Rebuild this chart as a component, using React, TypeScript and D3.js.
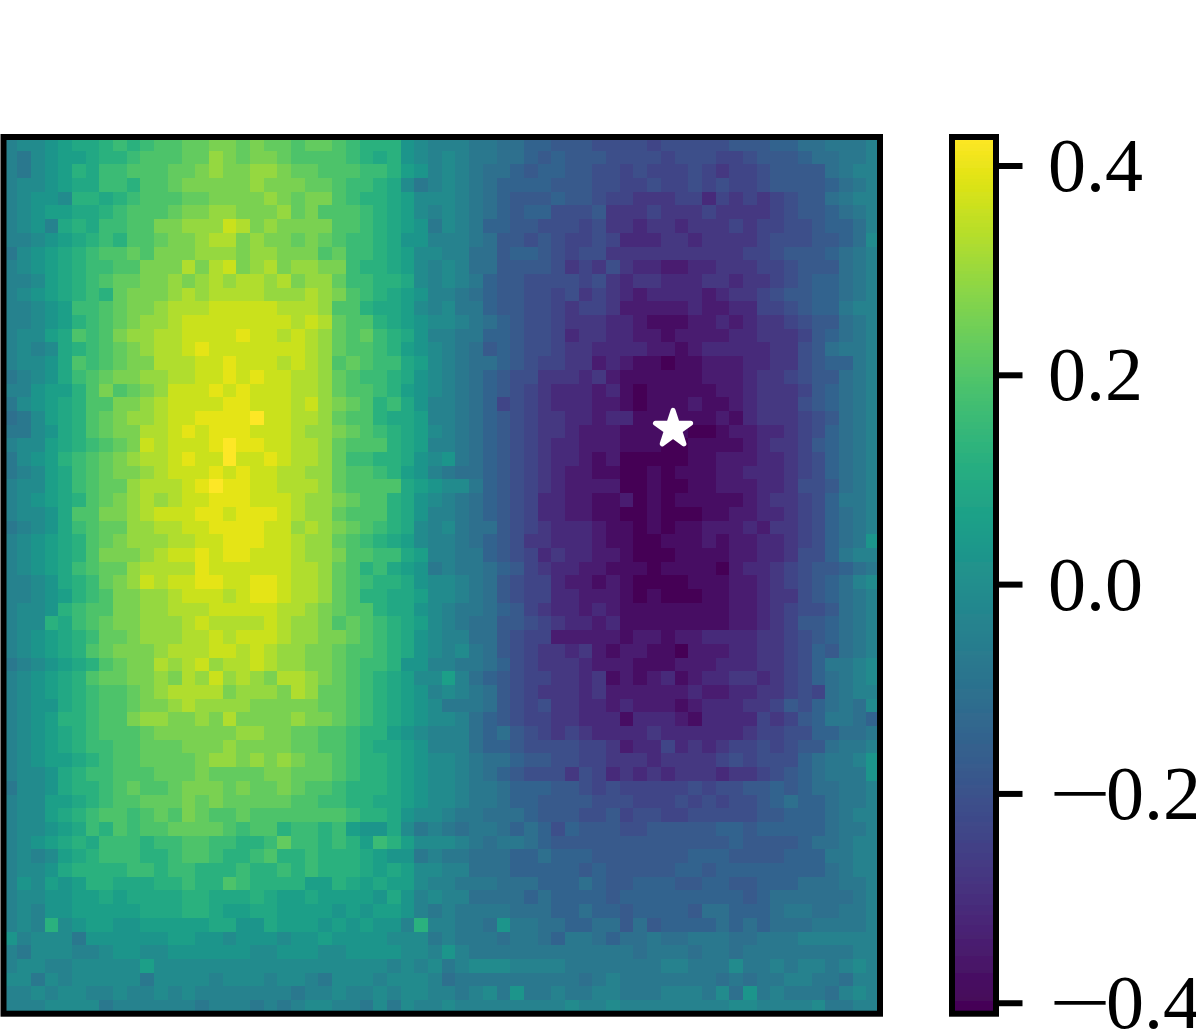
import React from "react";
import * as d3 from "d3";

// Cell levels (a = lowest, z = highest).
const heatRows: string[] = [
"lmmnoppq rqrssttu ututtstt srqqqnml llkkjjii hhhggggf ggggghhh iijjkkkl",
"lkmnoopq qrsssttv utuutsss srqpqnml mlkkjjih ihhhgggg fgggffgh hhijjkkl",
"lkmnoqpr rsssttuv uuvvutts ssrrqonl mlkjjihi ihhggfgf ffgfeffg hhhhjkll",
"lmmnoppr rqsstuuu uuvuuutt srrqpmkl mlkjiiii hhhggffg ffgfgffg hhhhijkl",
"lmnnmqqp qrsssttu uuuvutuu srqqpomm mlkjihhh ihhgffee effdfefe fghhjkll",
"lmnooppq rssstuuv vuuuvtus ssrqpoml mlkjihii gggheeef eeefeeee fghhijkl",
"lmnlpqpr rssuuvvv xwuvuuuu ssrqponk mlkiihhg ggfgeede edeeefef fgghiijl",
"llmnopqr qsstuuvw wuvuutut srrqpnnl llkjhhgh gffgfddd eedeeeef ggghhijm",
"kmnopqrs stsuuuvv vuvvuuus trrqpomm lljjhiih gfggeeee eeeeeeff ghhhijkl",
"lmnopqrr ssuuuwuw xuvwuvvu urqqpoml mljjhhhh gefegedd ccddeeef fghhhjkl",
"llmopqrs ttuuvuvw vwwvwuvv trrqqpml mlkihhgg ggfgedee dddeedee fghiijkl",
"lmnopqrq tuuuvwvw wwwvvvwv usrqponl lkjihhgg fgefedcd dddcdeef ghhiijkl",
"llmnorrs tuuvwwwx xxxxwwwv ssqppoml mkkihhgg feffeccc ccdccddf fghiikll",
"llmnoqrs tuvvwxxx xxxxxwxw tssqponm mlkjihgg feeeddcb bbccdcde efghhjkl",
"lmmopsrs uvvwwxxx xyxxwxwv tstrqpnl lkkiihgg fdeeddcc bccccdde eefhijkl",
"lmlmpqrs tuvwwxyx xxxxxxwv tssrqonm lkjhihgg feeddddc cbcddddd eeghjkkl",
"lmmnpsrs tuuwwwxx yxxxwxwv stsrrpom lkjjihgf feecdcbb abbcccdd eeghiikl",
"klmnprst uuvvwwxx yxyxxwwv tsrrqpnm lkjihgge eedecbbb bbbcccde efghhjkl",
"llnooqsu stuvxxxy xyxxxwwv tssrqonm lkjihgfe dddcdbab bbbbccde eefhijkl",
"kmnopqss uuvwxxxx yyxxxwxv utsqrpnl lkjifgfe dddccbab bbcbbcde eeghijkl",
"jkmopqst uvvwxxyy yyzxxwwv tssqppol lkjihgfe eddcddbb bbbbcbde eefghjkl",
"kkmnpqst uuwwxyxy yyxxxwvv utsrqpom lkjihgfe edcccbbb bbaabccd defgijkl",
"lmmopqrs tuxwxxxy zyyxxwwv tsssqpol lkjihgfe ddcccbbb aabbbbcd eefhijkl",
"kmnoqrst uvwwxyxx zxxyxwwv trrqqpnm nkjihgfe ddcbcaaa aabbcccd defgijkl",
"klmoprst uuvwxxxy xyxxwwvv tssrqonl kjjihgfe dccbbaab abbbccdd defgijkl",
"lmmoprst tvwwwxyz yyxxwwwv tsssspon mmkihgfe dccccaab aabbcccd degghjkl",
"lmnopqst uvwvwxxy yyxxxwvv utssqpnm lkjihgfd dccbbcab abbbbbcd eefgikkl",
"lmmnpssu uvwxxxyy xyyyxwvv tsssqpnl lkjihgfd dccbbaab aaabbccd defgijkl",
"klmnprst tvvwwxxy yyyxxvwv utsrqpml mkjjhgfe dddcbbab abbcccdc eefgijkl",
"lmnopqst uvvvwwxx yyyxxwvv tsrqpoml lkjihgee dddcbbaa bbbcbccd defgijkn",
"lmnopqsu uuvwxxyx yyxxxwvv ussrrpol lkkihgfd eddccbaa abbbbccd deggikll",
"lmnoprst tvwwwwyx xxxxxwwv tsqrponk lkkjihfe ddccbbba bbbbacdd efghhijk",
"llmnpqrt uvxwxxyy xxyyxwwv tsrqqpnm mlkjhgff dccbcbaa aabbbccd efghijlm",
"llmnoqrs uuvvwxxx wxyyxwwv tsqqppom mlkjhgff ddcccbab aaabbccd eeghijkl",
"lmmnqrss uuvvwwwx xxxxwwvu tssqppnm lkkjihfe ddcdcbbb bbbbbccd efgghjkl",
"lmmqprst uuvvvwxw wwwxwvvu stsrqpom lkjjhhgf eddcdbbb bbbbbccd efhhijkl",
"lmnopqrt tuvvvwwx wxxxwvvu utsrqpnm lljjhgff cccccbcc bccdddde efghijkl",
"lmnopqst uuuvwwwx xwxwvvuu tssrqpnm lmkjhgfe edecbccb bacccdde efgihjkl",
"klmnopqs tuuwvwxv wwxwvvuu tsrrqnnl lkkjigfe eedcccbb bcccddde efgikklm",
"lmnopqst tuuvuwvx vwvuwwvu tsrqpomm oljihgff eedebcbc dbcddeed efgijklm",
"lmnopqrs stuvwwww uvvvuwvt tsrqponl mlkjhgfe eedecccc ccdccdde efgfjkll",
"lmnnpqrs stuuvwvv vvuuuuut tsrqponm kkkjhgfg eeddcdcc cbcdddee fhgijkjm",
"lmnoqqrs suvvuuvu wuuuuvuu tsrqponm mljihgff eedddbdd dcbddddf efhikkji",
"lmnopqrs sstuuuuu uvvuutts srqqonml lljijhgf efedddde ddddddef fggiijjk",
"lmnopqrr sstttuuu vuuuutts srqpponl lljiihgg ggffecdd fdedeffg fghhjkkl",
"lmnoopqr ssttttuv vuvuvutt srqqponm mlkjjihh ggffeeed eeeefgfg ggijkkln",
"lmmnpqrr ssstttut tttuuttt srqqponm mlkjihgg gegfdede deeedeef ghijkkkn",
"kmmnpqqr stsstuuu tuttutss rqqqponm mlkkjiii hhgfgfff ffgfgghh ihijjkkl",
"lmmoopqr sstttutu tttttssr rqqpponm mlkkjiih hhhgggff fgfgfggh ijiijkkl",
"lmmopqrs srstsuts stssssss srqqpnmm lkkjjjih hhgghfgg ffgggggh hiiijkll",
"lmmnoprq srsstttt srssqrrq ronnpmkl kjkkjiji gihhhggh hhhhiihi iiiijkkl",
"lmnopqpr rrqrrssr rqqrtrrq rqorqomm mlkjkkji hhhhhhhh hhhhhihh hhijjkll",
"lmlmopqr rrqqrssr qqrsqqrq qqponnkl kkjjjiij iiihhhhh hhiiihhh hiiikkll",
"lmmnpqqq qrrqrrqq qrqqrqrq qqpopomm lljjjiii iihihhhh hiihiiii iiiijkll",
"lnmonoqq pppqqrqq srqqqqoo qpopooml lkkkjjji iijihhii ihhiihhi iijjjkkl",
"lmmnnoop oppppqqp ppqpoopo ooonpnlm lljjjjij iiiihiii iiiiiihi jjjjjjkl",
"lmlnnooo oopppqqp ooppoooo nonoonlk lkkkkjjj iijiihii iihjjiii jkkjjkkl",
"lmlqmnoo nnooooop pnnpooon ononnlql lkkjnkkj jiijjhjh iiiijiji jjjkkkkl",
"nlmmmknn nnnnoonn mnnnmnno nnnnmmmk lkkkjkkj ikkjijjk jjkkkjjk kkllllll",
"lkmmmllm nnmmnnnn nnmmnnnm mnnnnmml nlkkkkkk kkkkkkjk kkjkkjkk kkkkkkll",
"lmmllmmm mmommmmm mmmmmmmm mmmmlmlm klmmmlll lkkkkkkk llkkkmkk lkllklml",
"mmkmlmmm mmkmmmml mmmlmmlk mmmlmmml jkkkkkkk kkjklkkk kkkkjkjk kllkkjll",
"llmlmmll mllmlmll lllllkll mllmlmml lklmknkk lkkllkkk lllkmjnk lkkkjlml",
"lllmmmmk llllllkl llklklmm llkmkmll mlllllll lmllmlll lllllmml lllmkkll",
];
const levels = "abcdefghijklmnopqrstuvwxyz";
const lowestValue = -0.41;
const highestValue = 0.4277;
const barTicks = [0.4, 0.2, 0, -0.2, -0.4];
const barSteps = d3.range(0, 512);
const starCell = [48.89, 21.31];

const W = 1196, H = 1034;
const x0 = 3.5, x1 = 880, y0 = 137, y1 = 1013.7;
const bx0 = 952, bx1 = 996;

const cells = heatRows.map((r) => r.replace(/ /g, "").split("").map((c) =>
  lowestValue + (levels.indexOf(c) / 25) * (highestValue - lowestValue)));

export default function App() {
  const nCols = d3.max(cells, (r) => r.length) as number;
  const x = d3.scaleLinear().domain([0, nCols]).range([x0, x1]);
  const y = d3.scaleLinear().domain([0, cells.length]).range([y0, y1]);
  const color = d3.scaleSequential(d3.interpolateViridis).domain([lowestValue, highestValue]);
  const barY = d3.scaleLinear().domain([highestValue, lowestValue]).range([y0, y1]);
  const star = d3.symbol().type(d3.symbolStar).size(384)() as string;
  const stepValue = (i: number) => lowestValue + (i / barSteps.length) * (highestValue - lowestValue);
  return (
    <svg width={W} height={H} viewBox={`0 0 ${W} ${H}`} style={{ position: "absolute", left: 0, top: 0, display: "block", background: "#fff" }}>
      <defs>
        <filter id="soft" x="0" y="0" width={W} height={H} filterUnits="userSpaceOnUse" primitiveUnits="userSpaceOnUse">
          <feGaussianBlur stdDeviation="0.7" />
        </filter>
      </defs>
      <g filter="url(#soft)">
        <rect x={0} y={0} width={W} height={H} fill="#fff" />
        <g shapeRendering="crispEdges">
          {cells.map((row, r) => row.map((v, c) => (
            <rect key={`${r}-${c}`} x={x(c)} y={y(r)} width={x(c + 1) - x(c) + 0.5} height={y(r + 1) - y(r) + 0.5} fill={color(v)} />
          )))}
        </g>
        <path d={star} transform={`translate(${x(starCell[0])},${y(starCell[1])})`} fill="#fff" stroke="#fff" strokeWidth={5} strokeLinejoin="round" />
        <rect x={x0} y={y0} width={x1 - x0} height={y1 - y0} fill="none" stroke="#000" strokeWidth={6} />
        <g shapeRendering="crispEdges">
          {barSteps.map((i) => (
            <rect key={i} x={bx0} width={bx1 - bx0} y={barY(stepValue(i + 1))} height={barY(stepValue(i)) - barY(stepValue(i + 1)) + 0.5} fill={color(stepValue(i + 0.5))} />
          ))}
        </g>
        <rect x={bx0} y={y0} width={bx1 - bx0} height={y1 - y0} fill="none" stroke="#000" strokeWidth={6} />
        {barTicks.map((t) => (
          <g key={t} transform={`translate(0,${barY(t)})`}>
            <line x1={999} x2={1022.5} stroke="#000" strokeWidth={6} />
            <text y={25} fontFamily="'Liberation Serif', serif" fontSize={76} fill="#000">
              {t < 0
                ? <><tspan x={1049} textLength={62} lengthAdjust="spacingAndGlyphs">{"\u2212"}</tspan><tspan x={1106}>{Math.abs(t).toFixed(1)}</tspan></>
                : <tspan x={1048}>{t.toFixed(1)}</tspan>}
            </text>
          </g>
        ))}
      </g>
    </svg>
  );
}
